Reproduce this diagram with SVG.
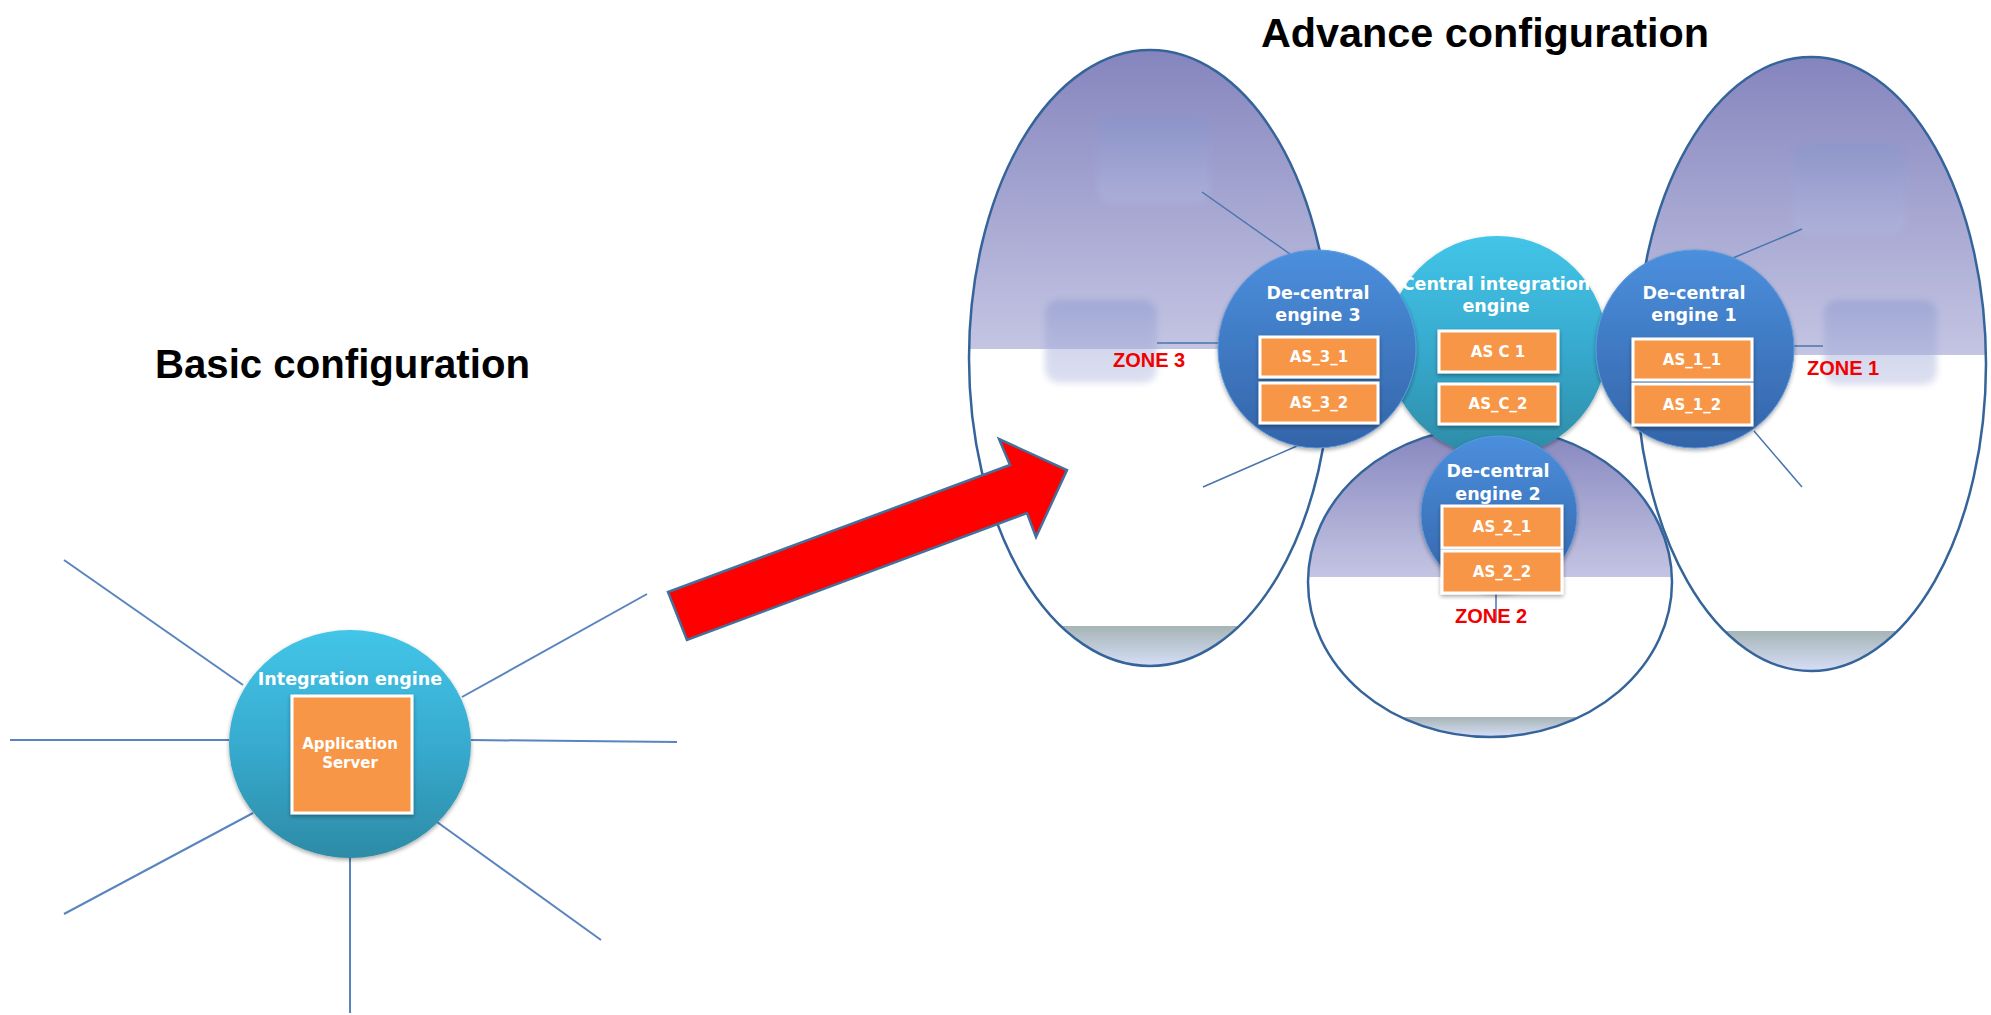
<svg xmlns="http://www.w3.org/2000/svg" width="1991" height="1015" viewBox="0 0 1991 1015">
<defs>
<linearGradient id="zoneGrad" x1="0" y1="0" x2="0" y2="1">
<stop offset="0" stop-color="#8585be"/>
<stop offset="0.485" stop-color="#c4c5e3"/>
<stop offset="0.485" stop-color="#ffffff"/>
<stop offset="0.935" stop-color="#ffffff"/>
<stop offset="0.935" stop-color="#a6b5b6"/>
<stop offset="1" stop-color="#d6def7"/>
</linearGradient>
<linearGradient id="tealGrad" x1="0" y1="0" x2="0" y2="1">
<stop offset="0" stop-color="#42c5e8"/>
<stop offset="0.5" stop-color="#37abcf"/>
<stop offset="1" stop-color="#2d8ba6"/>
</linearGradient>
<linearGradient id="blueGrad" x1="0" y1="0" x2="0" y2="1">
<stop offset="0" stop-color="#4b8fdd"/>
<stop offset="1" stop-color="#3464a8"/>
</linearGradient>
<linearGradient id="ghostGrad" x1="0" y1="0" x2="0" y2="1">
<stop offset="0" stop-color="#8494cc"/>
<stop offset="1" stop-color="#b3b9e0"/>
</linearGradient>
<filter id="soft" x="-20%" y="-20%" width="140%" height="140%">
<feGaussianBlur stdDeviation="3"/>
</filter>
<filter id="shadow" x="-20%" y="-20%" width="140%" height="150%">
<feGaussianBlur in="SourceAlpha" stdDeviation="2"/>
<feOffset dy="2" result="b"/>
<feComponentTransfer><feFuncA type="linear" slope="0.35"/></feComponentTransfer>
<feMerge><feMergeNode/><feMergeNode in="SourceGraphic"/></feMerge>
</filter>
<style>
.title{font-family:"Liberation Sans",Arial,sans-serif;font-weight:bold;font-size:40px;fill:#000}
.eng{font-family:"DejaVu Sans",sans-serif;font-weight:bold;font-size:17.5px;fill:#fff;text-anchor:middle}
.as{font-family:"DejaVu Sans",sans-serif;font-weight:bold;font-size:15px;fill:#fff;text-anchor:middle}
.zone{font-family:"Liberation Sans",Arial,sans-serif;font-weight:bold;font-size:20px;fill:#f00000}
.box{fill:#f79646;stroke:#fff;stroke-width:3}
.zfill{fill:url(#zoneGrad)}
.zline{fill:none;stroke:#35649a;stroke-width:2.5}
.conn{fill:none;stroke:#5a84c0;stroke-width:2}
.zconn{fill:none;stroke:#4a74ad;stroke-width:1.5}
.ghost{fill:url(#ghostGrad);opacity:0.45}
.teal{fill:url(#tealGrad)}
.blue{fill:url(#blueGrad);stroke:#5a9ae0;stroke-width:1}
</style>
</defs>
<rect width="1991" height="1015" fill="#fff"/>

<text class="title" x="155" y="378" textLength="375" lengthAdjust="spacingAndGlyphs">Basic configuration</text>
<text class="title" x="1261" y="47" textLength="448" lengthAdjust="spacingAndGlyphs">Advance configuration</text>

<g id="connectors">
<line class="conn" x1="64" y1="560" x2="243" y2="685"/>
<line class="conn" x1="10" y1="740" x2="229" y2="740"/>
<line class="conn" x1="64" y1="914" x2="253" y2="813"/>
<line class="conn" x1="350" y1="858" x2="350" y2="1013"/>
<line class="conn" x1="437" y1="822" x2="601" y2="940"/>
<line class="conn" x1="471" y1="740" x2="677" y2="742"/>
<line class="conn" x1="462" y1="697" x2="647" y2="594"/>
</g>

<g id="zone3">
<ellipse class="zfill" cx="1150" cy="358" rx="181" ry="308"/>
<rect class="ghost" x="1097" y="117" width="113" height="86" rx="14" filter="url(#soft)"/>
<rect class="ghost" x="1045" y="300" width="112" height="83" rx="14" filter="url(#soft)"/>
</g>
<g id="zone1">
<ellipse class="zfill" cx="1811" cy="364" rx="175" ry="307"/>
<rect class="ghost" x="1793" y="143" width="113" height="91" rx="14" filter="url(#soft)"/>
<rect class="ghost" x="1824" y="300" width="113" height="85" rx="14" filter="url(#soft)"/>
</g>
<g id="zone2">
<ellipse class="zfill" cx="1490" cy="582" rx="182" ry="155"/>
</g>
<g id="zone-outlines">
<ellipse class="zline" cx="1150" cy="358" rx="181" ry="308"/>
<ellipse class="zline" cx="1811" cy="364" rx="175" ry="307"/>
<ellipse class="zline" cx="1490" cy="582" rx="182" ry="155"/>
</g>

<g id="zone-connectors">
<line class="zconn" x1="1202" y1="192" x2="1290" y2="254"/>
<line class="zconn" x1="1157" y1="343" x2="1220" y2="343"/>
<line class="zconn" x1="1297" y1="446" x2="1203" y2="487"/>
<line class="zconn" x1="1733" y1="258" x2="1802" y2="229"/>
<line class="zconn" x1="1793" y1="346" x2="1823" y2="346"/>
<line class="zconn" x1="1754" y1="431" x2="1802" y2="487"/>
<line class="zconn" x1="1496" y1="593" x2="1496" y2="622"/>
</g>

<g id="arrow">
<polygon points="687,640 668,592 1010,465 999,439 1067,470 1036,537 1027,513" fill="#ff0000" stroke="#41719c" stroke-width="2.5" stroke-linejoin="miter"/>
</g>

<g id="integration-engine">
<ellipse class="teal" cx="350" cy="744" rx="121" ry="114" filter="url(#shadow)"/>
<text class="eng" x="350" y="685" font-size="18">Integration engine</text>
<rect class="box" x="292" y="696" width="120" height="117" filter="url(#shadow)"/>
<text class="as" x="350" y="749">Application</text>
<text class="as" x="350" y="768">Server</text>
</g>

<g id="central-engine">
<circle class="teal" cx="1497" cy="346" r="110" filter="url(#shadow)"/>
<text class="eng" x="1496" y="290">Central integration</text>
<text class="eng" x="1496" y="312">engine</text>
<rect class="box" x="1439" y="331" width="119" height="41" filter="url(#shadow)"/>
<text class="as" x="1498" y="357">AS C 1</text>
<rect class="box" x="1439" y="384" width="119" height="40" filter="url(#shadow)"/>
<text class="as" x="1498" y="409">AS_C_2</text>
</g>

<g id="decentral-engine-3">
<circle class="blue" cx="1317" cy="349" r="99" filter="url(#shadow)"/>
<text class="eng" x="1318" y="299">De-central</text>
<text class="eng" x="1318" y="321">engine 3</text>
<rect class="box" x="1260" y="337" width="118" height="40" filter="url(#shadow)"/>
<text class="as" x="1319" y="362">AS_3_1</text>
<rect class="box" x="1260" y="383" width="118" height="40" filter="url(#shadow)"/>
<text class="as" x="1319" y="408">AS_3_2</text>
</g>

<g id="decentral-engine-1">
<circle class="blue" cx="1695" cy="349" r="99" filter="url(#shadow)"/>
<text class="eng" x="1694" y="299">De-central</text>
<text class="eng" x="1694" y="321">engine 1</text>
<rect class="box" x="1633" y="339" width="119" height="41" filter="url(#shadow)"/>
<text class="as" x="1692" y="365">AS_1_1</text>
<rect class="box" x="1633" y="384" width="119" height="41" filter="url(#shadow)"/>
<text class="as" x="1692" y="410">AS_1_2</text>
</g>

<g id="decentral-engine-2">
<circle class="blue" cx="1499" cy="514" r="78" filter="url(#shadow)"/>
<text class="eng" x="1498" y="477">De-central</text>
<text class="eng" x="1498" y="500">engine 2</text>
<rect class="box" x="1442" y="506" width="120" height="42" filter="url(#shadow)"/>
<text class="as" x="1502" y="532">AS_2_1</text>
<rect class="box" x="1442" y="551" width="120" height="42" filter="url(#shadow)"/>
<text class="as" x="1502" y="577">AS_2_2</text>
</g>

<g id="zone-labels">
<text class="zone" x="1113" y="367">ZONE 3</text>
<text class="zone" x="1807" y="375">ZONE 1</text>
<text class="zone" x="1455" y="623">ZONE 2</text>
</g>
</svg>
